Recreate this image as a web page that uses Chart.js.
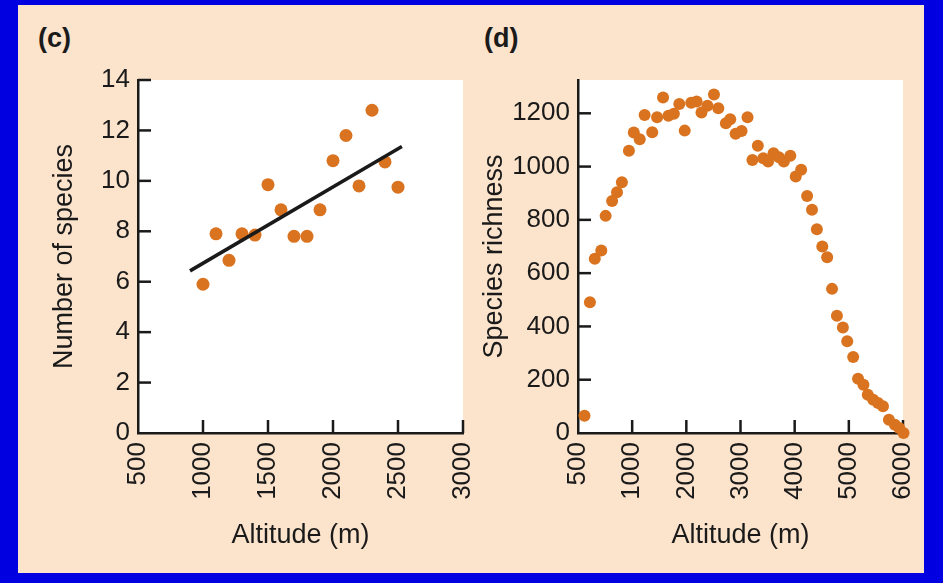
<!DOCTYPE html>
<html><head><meta charset="utf-8">
<script src="https://cdn.jsdelivr.net/npm/chart.js@4.4.0/dist/chart.umd.min.js"></script>
<style>
html,body{margin:0;padding:0;}
body{width:943px;height:583px;background:#0000E0;position:relative;overflow:hidden;font-family:'Liberation Sans',Arial,sans-serif;}
#bg{position:absolute;left:18px;top:5px;width:906px;height:568px;background:#FCE3CC;}
.lbl{position:absolute;font-weight:bold;font-size:27px;line-height:27px;color:#1a1a1a;}
canvas{position:absolute;left:0;top:0;}
</style></head><body>
<div id="bg"></div>
<div class="lbl" style="left:38px;top:25px">(c)</div>
<div class="lbl" style="left:484px;top:25px">(d)</div>
<canvas id="c1" width="943" height="583"></canvas>
<canvas id="c2" width="943" height="583"></canvas>
<script>
// ---------- Panel (c) data ----------
const altitudeC = [1000,1100,1200,1300,1400,1500,1600,1700,1800,1900,2000,2100,2200,2300,2400,2500];
const speciesC  = [5.9,7.9,6.85,7.9,7.85,9.85,8.85,7.8,7.8,8.85,10.8,11.8,9.8,12.8,10.75,9.75];
const fitLineX  = [900,2530];
const fitLineY  = [6.43,11.36];
const xTicksC   = [500,1000,1500,2000,2500,3000];
const yTicksC   = [0,2,4,6,8,10,12,14];

// ---------- Panel (d) data ----------
const altitudeD = [120,220,310,430,510,630,720,810,940,1030,1140,1230,1370,1460,1570,1670,1770,1870,1970,2090,
                   2190,2280,2390,2510,2590,2730,2810,2910,3020,3130,3220,3320,3420,3510,3610,3710,3800,3920,4020,4120,
                   4230,4320,4410,4510,4600,4690,4780,4890,4970,5080,5170,5270,5350,5450,5540,5630,5740,5850,5930,6010];
const richnessD = [65,491,654,685,815,871,904,941,1059,1128,1103,1194,1129,1185,1259,1191,1198,1235,1135,1240,
                   1244,1203,1228,1271,1219,1163,1178,1123,1134,1185,1025,1078,1031,1019,1050,1035,1019,1041,963,988,
                   890,838,765,700,660,541,440,396,344,285,204,181,144,125,113,100,50,31,19,0];
const xTickLabelsD = ['500','1000','2000','3000','4000','5000','6000'];
const yTicksD = [0,200,400,600,800,1000,1200];

const INK = '#1a1a1a';
const ORANGE = '#D9731F';
Chart.defaults.font.family = "'Liberation Sans', Arial, sans-serif";
Chart.defaults.color = INK;

const whiteArea = {
  id: 'whiteArea',
  beforeDraw(chart) {
    const {ctx, chartArea: a} = chart;
    ctx.save(); ctx.fillStyle = '#ffffff';
    ctx.fillRect(a.left, a.top, a.right - a.left, a.bottom - a.top);
    ctx.restore();
  }
};
const inwardTicks = {
  id: 'inwardTicks',
  beforeDatasetsDraw(chart) {
    const {ctx, chartArea: a, scales: {x, y}} = chart;
    const L = 13;
    ctx.save(); ctx.strokeStyle = INK; ctx.lineWidth = 2.5;
    x.ticks.forEach((t, i) => {
      const px = x.getPixelForTick(i);
      if (Math.abs(px - a.left) < 2) return;
      ctx.beginPath(); ctx.moveTo(px, a.bottom); ctx.lineTo(px, a.bottom - L); ctx.stroke();
    });
    y.ticks.forEach((t, i) => {
      const py = y.getPixelForTick(i);
      if (Math.abs(py - a.bottom) < 2) return;
      ctx.beginPath(); ctx.moveTo(a.left, py); ctx.lineTo(a.left + L, py); ctx.stroke();
    });
    ctx.restore();
  }
};

function makeOptions(cfg) {
  return {
    responsive: false, devicePixelRatio: 1, animation: false,
    layout: {padding: {left: 0, top: 80, right: 943 - cfg.right, bottom: 0}},
    plugins: {legend: {display: false}, tooltip: {enabled: false}},
    scales: {
      x: {
        type: 'linear', min: cfg.xmin, max: cfg.xmax,
        afterBuildTicks: s => { s.ticks = cfg.xticks.map(v => ({value: v})); },
        afterFit: s => { s.height = 150; s.paddingLeft = 0; s.paddingRight = 0; },
        grid: {display: false, drawTicks: false},
        border: {display: true, color: INK, width: 2.5},
        ticks: {minRotation: 90, maxRotation: 90, padding: 9, font: {size: 26}, color: INK,
                autoSkip: false, callback: cfg.xcb},
        title: {display: true, text: 'Altitude (m)', font: {size: 27}, color: INK, padding: {top: 0, bottom: 31}}
      },
      y: {
        type: 'linear', min: 0, max: cfg.ymax,
        afterBuildTicks: s => { s.ticks = cfg.yticks.map(v => ({value: v})); },
        afterFit: s => { s.width = cfg.left; s.paddingTop = 0; s.paddingBottom = 0; },
        grid: {display: false, drawTicks: false},
        border: {display: true, color: INK, width: 2.5},
        ticks: {padding: 8, font: {size: 26}, color: INK, autoSkip: false, callback: v => String(v)},
        title: {display: true, text: cfg.ytitle, font: {size: 27}, color: INK, padding: {top: cfg.ytitleX - 16, bottom: 0}}
      }
    }
  };
}

new Chart(document.getElementById('c1'), {
  type: 'scatter',
  data: {
    datasets: [
      {data: altitudeC.map((a, i) => ({x: a, y: speciesC[i]})), pointRadius: 6.5, pointBackgroundColor: ORANGE,
       pointBorderWidth: 0, showLine: false, order: 2},
      {type: 'line', data: fitLineX.map((a, i) => ({x: a, y: fitLineY[i]})), borderColor: INK, borderWidth: 3.5,
       pointRadius: 0, fill: false, order: 1}
    ]
  },
  options: makeOptions({left: 138, right: 463, xmin: 500, xmax: 3000, xticks: xTicksC, yticks: yTicksC, ymax: 14,
                        ytitle: 'Number of species', ytitleX: 64, xcb: v => String(v)}),
  plugins: [whiteArea, inwardTicks]
});

new Chart(document.getElementById('c2'), {
  type: 'scatter',
  data: {
    datasets: [
      {data: altitudeD.map((a, i) => ({x: a, y: richnessD[i]})), pointRadius: 6, pointBackgroundColor: ORANGE,
       pointBorderWidth: 0, clip: false}
    ]
  },
  options: makeOptions({left: 578, right: 903, xmin: 0, xmax: 6000, xticks: [0,1000,2000,3000,4000,5000,6000],
                        yticks: yTicksD, ymax: 1325, ytitle: 'Species richness', ytitleX: 494,
                        xcb: (v, i) => xTickLabelsD[i]}),
  plugins: [whiteArea, inwardTicks]
});
</script>
</body></html>
